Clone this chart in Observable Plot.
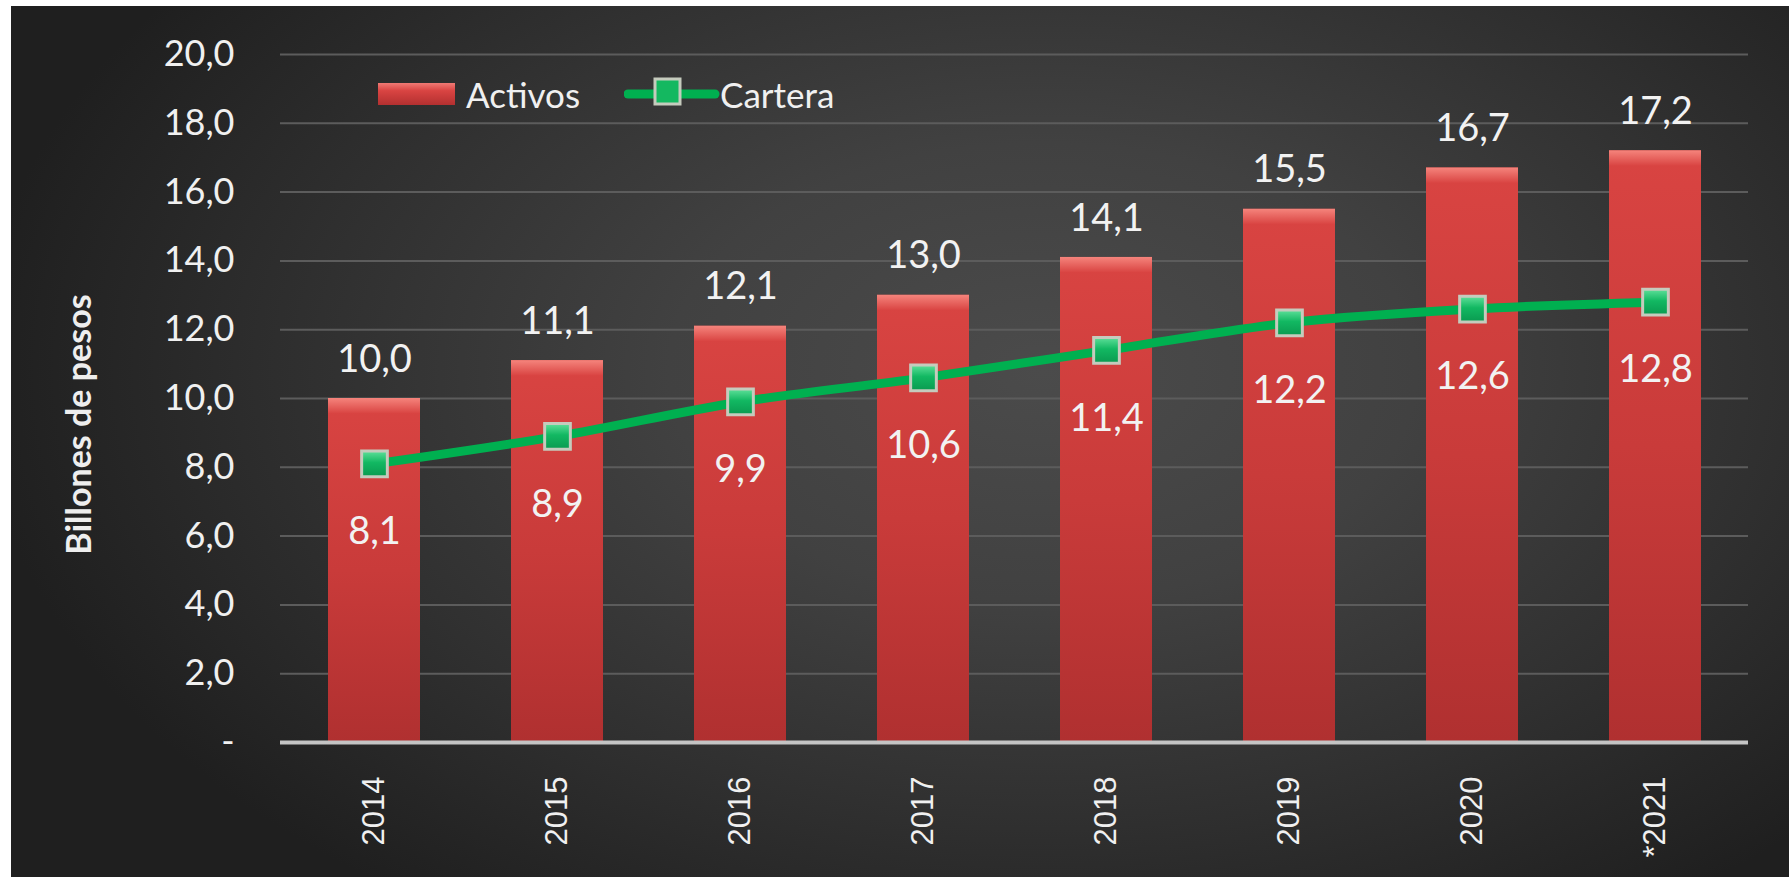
<!DOCTYPE html>
<html>
<head>
<meta charset="utf-8">
<script src="https://cdn.jsdelivr.net/npm/d3@7"></script>
<script src="https://cdn.jsdelivr.net/npm/@observablehq/plot@0.6"></script>
<style>
  html, body { margin: 0; padding: 0; background: #ffffff; }
  #stage { position: relative; width: 1789px; height: 877px; overflow: hidden; }
  #bg {
    position: absolute; left: 11px; top: 6px; right: 0; bottom: 0;
    background: radial-gradient(ellipse 60% 75% at 58% 42%, #4b4b4b 0%, #414141 35%, #2f2f2f 70%, #1f1f1f 100%);
  }
  #chart { position: absolute; left: 0; top: 0; }
  #legend { position: absolute; left: 0; top: 0; font-family: Lato, sans-serif; color: #f0f0f0; }
  .lg-item { position: absolute; font-size: 35px; line-height: 1; }
</style>
</head>
<body>
<div id="stage">
  <div id="bg"></div>
  <div id="chart"></div>
  <div id="legend">
    <svg style="position:absolute;left:378px;top:83px" width="78" height="23">
      <defs>
        <linearGradient id="lgBar" x1="0" y1="0" x2="0" y2="1">
          <stop offset="0" stop-color="#f07a74"/>
          <stop offset="0.35" stop-color="#d94442"/>
          <stop offset="1" stop-color="#b33030"/>
        </linearGradient>
      </defs>
      <rect x="0" y="0" width="77" height="22" fill="url(#lgBar)"/>
    </svg>
    <div class="lg-item" style="left:466px;top:77px">Activos</div>
    <svg style="position:absolute;left:624px;top:76px" width="96" height="30">
      <line x1="4" y1="18" x2="91" y2="18" stroke="#00b050" stroke-width="9" stroke-linecap="round"/>
      <rect x="31" y="3" width="25" height="25" fill="#14b860" stroke="#c5cbbd" stroke-width="3"/>
    </svg>
    <div class="lg-item" style="left:720px;top:77px">Cartera</div>
  </div>
</div>
<script>
// ---- data ----
const years = ["2014", "2015", "2016", "2017", "2018", "2019", "2020", "*2021"];
const activos = [10.0, 11.1, 12.1, 13.0, 14.1, 15.5, 16.7, 17.2];
const cartera = [8.1, 8.9, 9.9, 10.6, 11.4, 12.2, 12.6, 12.8];
const yTicks = [0, 2, 4, 6, 8, 10, 12, 14, 16, 18, 20];
const yTitle = "Billones de pesos";

const table = years.map((year, i) => ({year, activos: activos[i], cartera: cartera[i]}));
const fmt = v => v.toFixed(1).replace(".", ",");

const plot = Plot.plot({
  width: 1789,
  height: 877,
  marginLeft: 280,
  marginRight: 41,
  marginTop: 54,
  marginBottom: 135,
  style: {background: "transparent", color: "#f0f0f0", fontFamily: "Lato, sans-serif"},
  x: {domain: years, paddingInner: 0.5, paddingOuter: 0.25, label: null},
  y: {domain: [0, 20], label: null},
  marks: [
    Plot.gridY(yTicks.filter(d => d > 0), {stroke: "#5c5c5c", strokeOpacity: 1, strokeWidth: 2}),
    Plot.barY(table, {x: "year", y: "activos", fill: "url(#barGrad)"}),
    Plot.barY(table, {x: "year", y1: d => d.activos - 0.45, y2: "activos", fill: "url(#bevelGrad)"}),
    Plot.ruleY([0], {stroke: "#c4c4c4", strokeWidth: 4}),
    Plot.line(table, {x: "year", y: "cartera", stroke: "#00b050", strokeWidth: 9, curve: "catmull-rom"}),
    Plot.dot(table, {x: "year", y: "cartera", symbol: "square", r: 14.5, fill: "url(#mkGrad)", stroke: "#c5cbbd", strokeWidth: 3}),
    Plot.text(table, {x: "year", y: "activos", text: d => fmt(d.activos), dy: -39, fontSize: 38, fill: "#f2f2f2"}),
    Plot.text(table, {x: "year", y: "cartera", text: d => fmt(d.cartera), dy: 68, fontSize: 38, fill: "#f2f2f2"}),
    Plot.axisY({ticks: yTicks, tickFormat: d => d === 0 ? "-" : fmt(d), tickSize: 0, tickPadding: 46, fontSize: 36, label: null}),
    Plot.axisX({tickRotate: -90, tickSize: 0, tickPadding: 34, fontSize: 31, fontFamily: "Liberation Sans, Arial, sans-serif", label: null}),
    Plot.text([yTitle], {text: d => d, frameAnchor: "left", textAnchor: "middle", dx: -200, dy: 26, rotate: -90, fontWeight: "bold", fontSize: 34, fill: "#eeeeee"})
  ]
});

const defs = d3.select(plot).insert("defs", ":first-child");
const bar = defs.append("linearGradient").attr("id", "barGrad").attr("x1", 0).attr("y1", 0).attr("x2", 0).attr("y2", 1);
bar.append("stop").attr("offset", 0).attr("stop-color", "#d94442");
bar.append("stop").attr("offset", 0.5).attr("stop-color", "#c93b3a");
bar.append("stop").attr("offset", 1).attr("stop-color", "#b03030");
const bev = defs.append("linearGradient").attr("id", "bevelGrad").attr("x1", 0).attr("y1", 0).attr("x2", 0).attr("y2", 1);
bev.append("stop").attr("offset", 0).attr("stop-color", "#f5847c");
bev.append("stop").attr("offset", 1).attr("stop-color", "#d94442");
const mk = defs.append("linearGradient").attr("id", "mkGrad").attr("x1", 0).attr("y1", 0).attr("x2", 0).attr("y2", 1);
mk.append("stop").attr("offset", 0).attr("stop-color", "#5fe09a");
mk.append("stop").attr("offset", 0.45).attr("stop-color", "#12b862");
mk.append("stop").attr("offset", 1).attr("stop-color", "#0a9a50");

document.getElementById("chart").appendChild(plot);
</script>
</body>
</html>
